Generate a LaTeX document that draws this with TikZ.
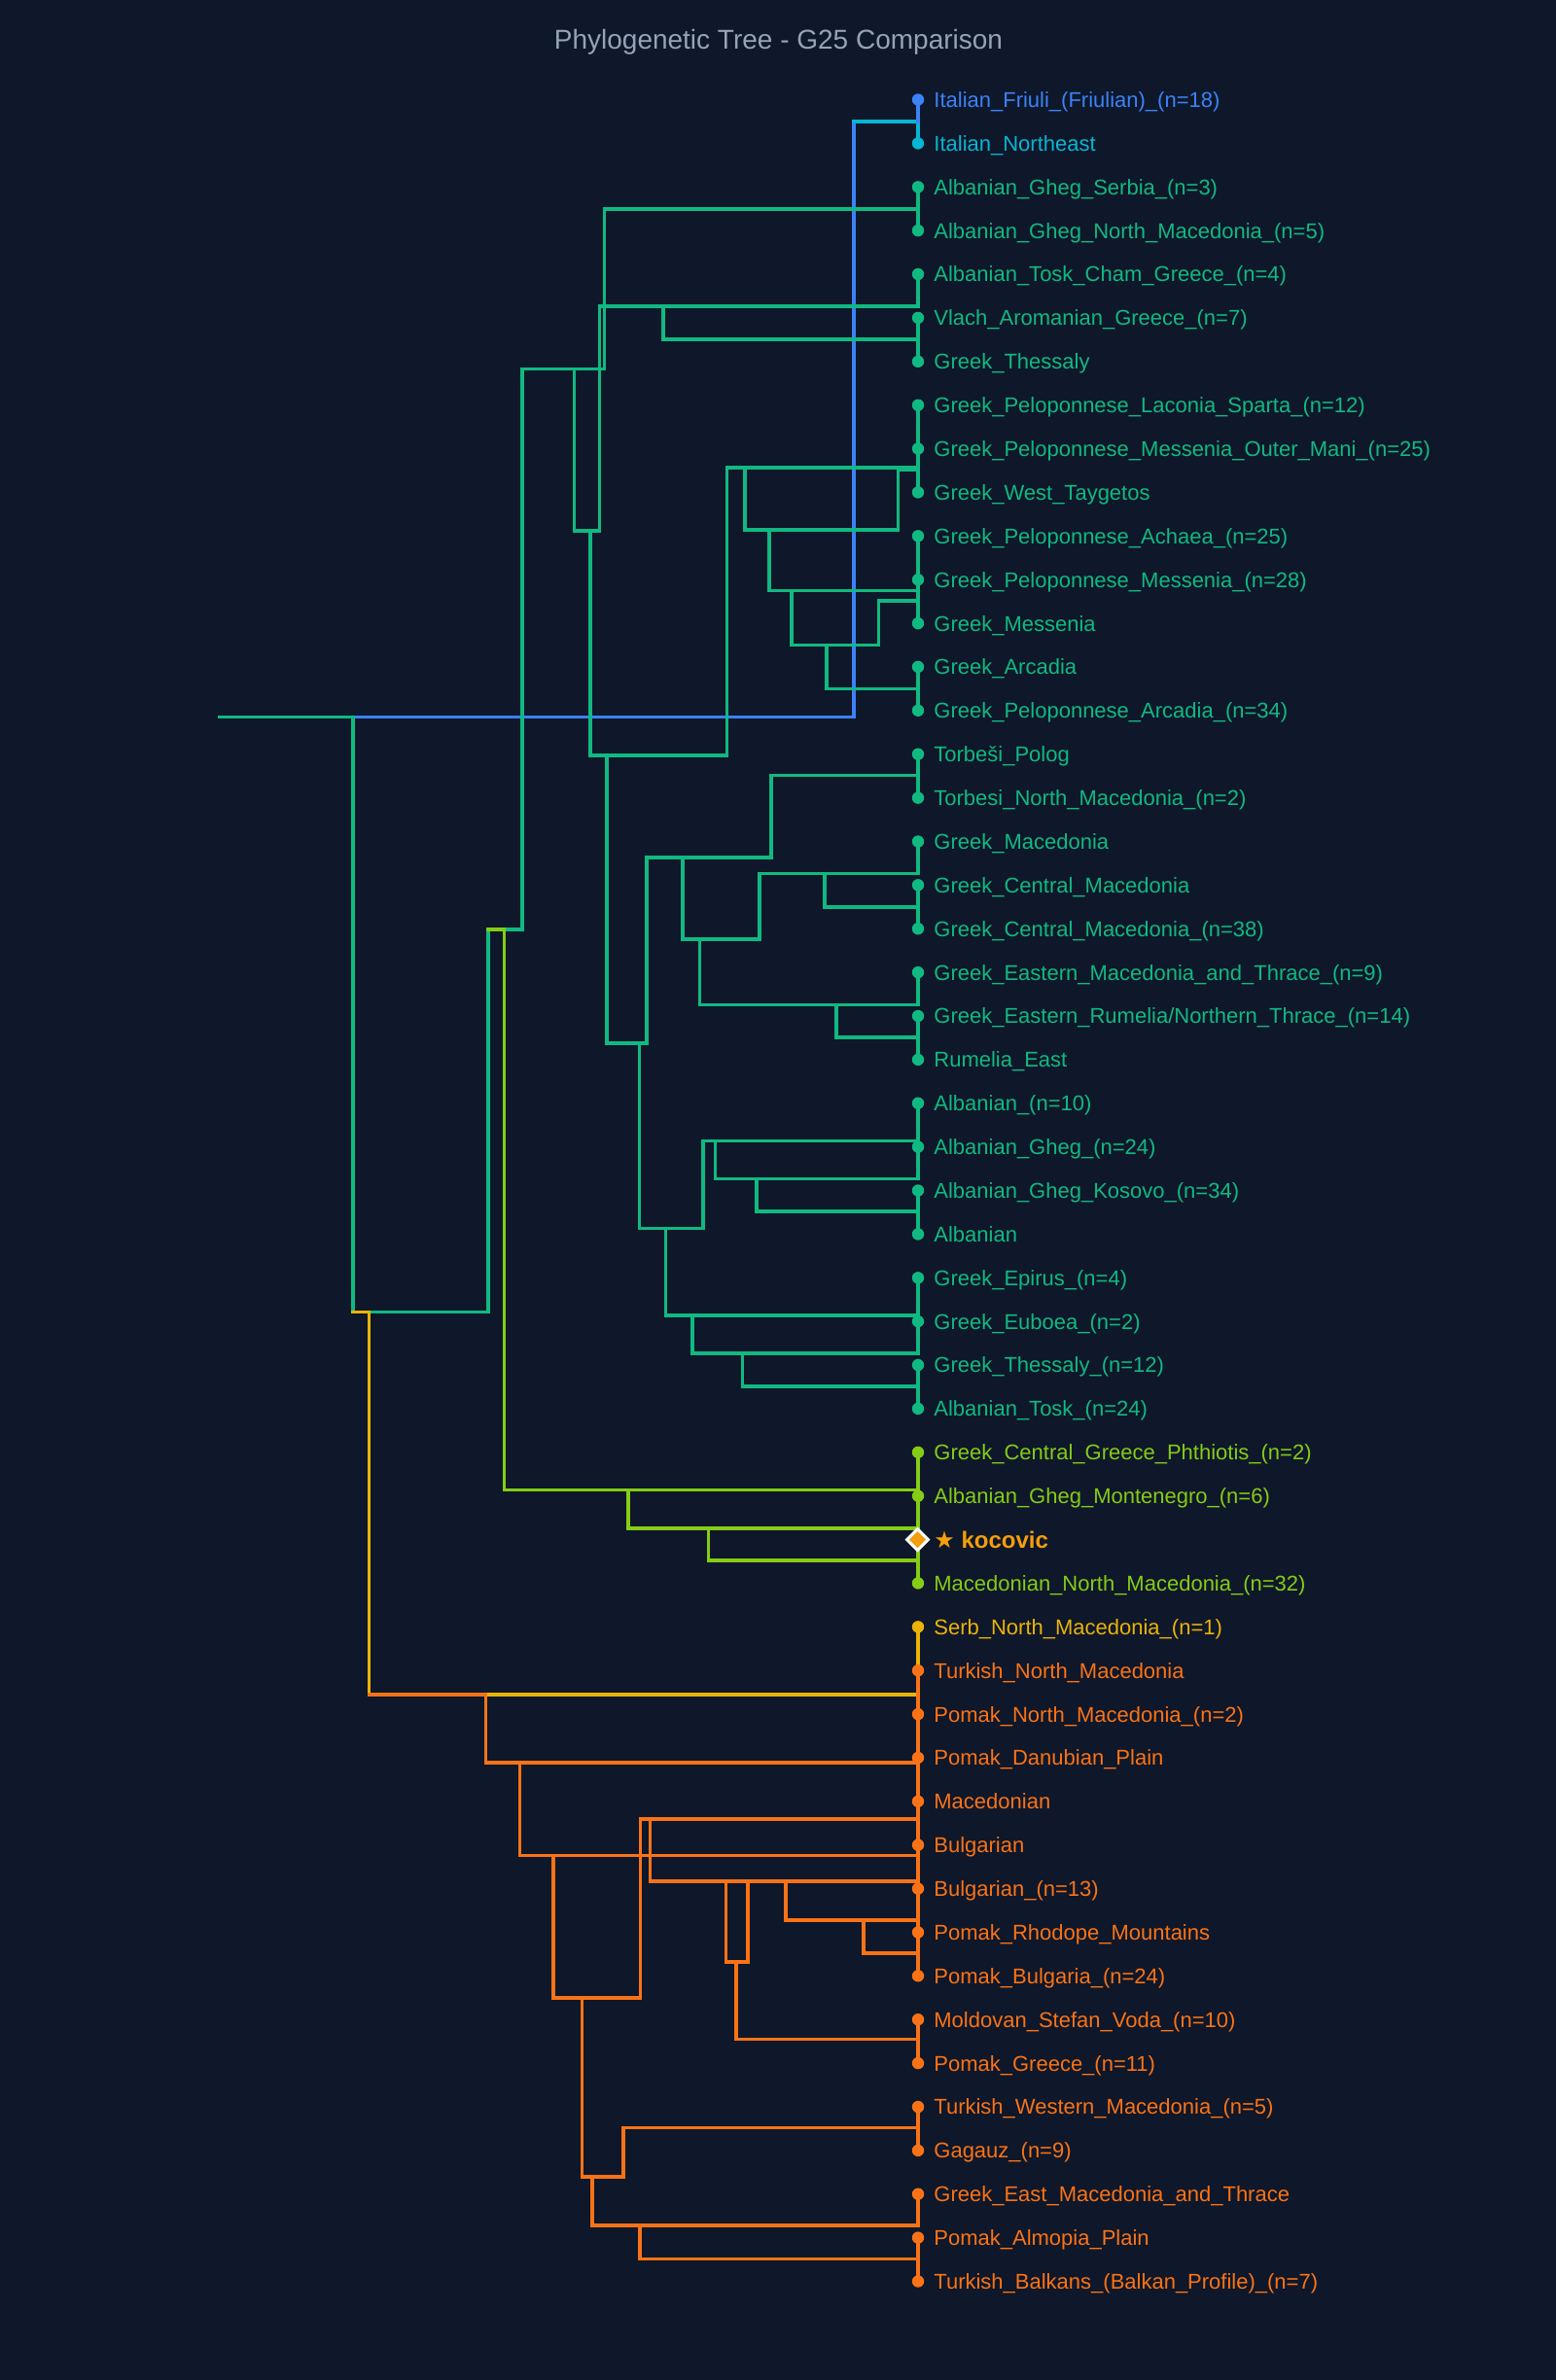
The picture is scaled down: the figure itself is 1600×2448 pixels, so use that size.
\documentclass[tikz,border=0pt]{standalone}
\usepackage{fontspec}
\setmainfont{Liberation Sans}
\newfontfamily\starfont{DejaVu Sans}
\usetikzlibrary{shapes.geometric}
\definecolor{bg}{HTML}{0F172A}
\definecolor{cblue}{HTML}{3B82F6}
\definecolor{ccyan}{HTML}{06B6D4}
\definecolor{cgreen}{HTML}{10B981}
\definecolor{clime}{HTML}{84CC16}
\definecolor{cyell}{HTML}{EAB308}
\definecolor{corange}{HTML}{F97316}
\definecolor{camber}{HTML}{F59E0B}
\definecolor{ctitle}{HTML}{94A3B8}
\tikzset{
  br/.style={line width=1.8pt, line cap=rect, line join=miter},
  leafdot/.style={circle, inner sep=0pt, minimum size=6.2pt},
  lbl/.style={anchor=base west, inner sep=0pt, font=\fontsize{11pt}{13pt}\selectfont},
}
\newcommand\leaf[4]{%
  \node[leafdot,fill=#3] (d#1) at (944,#2) {};
  \node[lbl,text=#3] (t#1) at (960,#2+7.9) {#4};}
\begin{document}
\begin{tikzpicture}[x=0.5pt,y=-0.5pt]
\path[fill=bg] (0,0) rectangle (1600,2448);
\node[anchor=base,inner sep=0pt,text=ctitle,font=\fontsize{14pt}{16pt}\selectfont] (title) at (800.5,50) {Phylogenetic Tree - G25 Comparison};

% ---------- blue / cyan ----------
\draw[br,cblue] (362.7,737.3) -- (878,737.3) -- (878,124.7);
\draw[br,ccyan] (878,124.7) -- (944,124.7) -- (944,147.4);
\draw[br,cblue] (944,102.5) -- (944,124.7);

% ---------- green ----------
\draw[br,cgreen] (225.7,737.3) -- (362.7,737.3);
\draw[br,cgreen] (362.7,737.3) -- (362.7,1349.3) -- (502,1349.3) -- (502,956) -- (536.7,956) -- (536.7,379.3) -- (621.4,379.3) -- (621.4,215) -- (944,215);
\draw[br,cgreen] (944,315) -- (616.3,315) -- (616.3,545.7) -- (590.3,545.7) -- (590.3,379.3);
\draw[br,cgreen] (682,315) -- (682,349) -- (944,349);
\draw[br,cgreen] (606.7,545.7) -- (606.7,776.7) -- (747.3,776.7) -- (747.3,480.7) -- (944,480.7);
\draw[br,cgreen] (765.7,480.7) -- (765.7,545) -- (923.3,545) -- (923.3,483.3) -- (944,483.3);
\draw[br,cgreen] (791,545) -- (791,607.3) -- (944,607.3);
\draw[br,cgreen] (944,618) -- (903.3,618) -- (903.3,663.3) -- (814,663.3) -- (814,607.3);
\draw[br,cgreen] (850,663.3) -- (850,708.3) -- (944,708.3);
\draw[br,cgreen] (624,776.7) -- (624,1072.7) -- (665,1072.7) -- (665,881.7) -- (792.7,881.7) -- (792.7,797.3) -- (944,797.3);
\draw[br,cgreen] (701.7,881.7) -- (701.7,965.7) -- (781,965.7) -- (781,898.3) -- (944,898.3);
\draw[br,cgreen] (847.7,898.3) -- (847.7,932.7) -- (944,932.7);
\draw[br,cgreen] (719.3,965.7) -- (719.3,1033.3) -- (944,1033.3);
\draw[br,cgreen] (860,1033.3) -- (860,1066.7) -- (944,1066.7);
\draw[br,cgreen] (657.4,1072.7) -- (657.4,1263.3) -- (723.2,1263.3) -- (723.2,1173.3) -- (944,1173.3);
\draw[br,cgreen] (735.3,1173.3) -- (735.3,1212.5) -- (944,1212.5);
\draw[br,cgreen] (777.7,1212.5) -- (777.7,1246) -- (944,1246);
\draw[br,cgreen] (684.4,1263.3) -- (684.4,1352.7) -- (944,1352.7);
\draw[br,cgreen] (712,1352.7) -- (712,1392) -- (944,1392);
\draw[br,cgreen] (763.4,1392) -- (763.4,1425.7) -- (944,1425.7);
% leaf column (green)
\foreach \a/\b in {192.3/237.1, 282/315, 326.9/371.8, 416.7/506.4, 551.3/641.1, 685.9/730.8, 775.7/820.6, 865.5/897, 910.3/955.2, 1000.1/1033.3, 1045/1089.9, 1134.7/1212.5, 1224.5/1269.4, 1314.3/1392, 1404/1448.9}
  \draw[br,cgreen] (944,\a) -- (944,\b);

% ---------- lime ----------
\draw[br,clime] (502,956) -- (518.3,956) -- (518.3,1532.3) -- (944,1532.3);
\draw[br,clime] (646,1532.3) -- (646,1571.7) -- (944,1571.7);
\draw[br,clime] (728.6,1571.7) -- (728.6,1605) -- (944,1605);
\draw[br,clime] (944,1493.8) -- (944,1628.4);

% ---------- yellow ----------
\draw[br,cyell] (362.7,1349.3) -- (379.5,1349.3) -- (379.5,1742.7);
\draw[br,cyell] (499.6,1742.7) -- (944,1742.7);
\draw[br,cyell] (944,1673.3) -- (944,1718.2);

% ---------- orange ----------
\draw[br,corange] (379.5,1742.7) -- (499.6,1742.7) -- (499.6,1813) -- (944,1813);
\draw[br,corange] (534.4,1813) -- (534.4,1908.3) -- (944,1908.3);
\draw[br,corange] (569.2,1908.3) -- (569.2,2055) -- (658.5,2055) -- (658.5,1870.7) -- (944,1870.7);
\draw[br,corange] (668.3,1870.7) -- (668.3,1935) -- (944,1935);
\draw[br,corange] (746.4,1935) -- (746.4,2017.7) -- (768.75,2017.7) -- (768.75,1935);
\draw[br,corange] (808,1935) -- (808,1975) -- (944,1975);
\draw[br,corange] (888,1975) -- (888,2009) -- (944,2009);
\draw[br,corange] (756.7,2017.7) -- (756.7,2097.5) -- (944,2097.5);
\draw[br,corange] (598.3,2055) -- (598.3,2239) -- (641,2239) -- (641,2188.3) -- (944,2188.3);
\draw[br,corange] (609,2239) -- (609,2289) -- (944,2289);
\draw[br,corange] (657.7,2289) -- (657.7,2323.3) -- (944,2323.3);
\foreach \a/\b in {1718.2/2032.3, 2077.2/2122.1, 2167/2211.9, 2256.7/2289, 2301.6/2346.5}
  \draw[br,corange] (944,\a) -- (944,\b);

% ---------- leaves ----------
\leaf{1}{102.5}{cblue}{Italian\_Friuli\_(Friulian)\_(n=18)}
\leaf{2}{147.4}{ccyan}{Italian\_Northeast}
\leaf{3}{192.3}{cgreen}{Albanian\_Gheg\_Serbia\_(n=3)}
\leaf{4}{237.1}{cgreen}{Albanian\_Gheg\_North\_Macedonia\_(n=5)}
\leaf{5}{282.0}{cgreen}{Albanian\_Tosk\_Cham\_Greece\_(n=4)}
\leaf{6}{326.9}{cgreen}{Vlach\_Aromanian\_Greece\_(n=7)}
\leaf{7}{371.8}{cgreen}{Greek\_Thessaly}
\leaf{8}{416.7}{cgreen}{Greek\_Peloponnese\_Laconia\_Sparta\_(n=12)}
\leaf{9}{461.5}{cgreen}{Greek\_Peloponnese\_Messenia\_Outer\_Mani\_(n=25)}
\leaf{10}{506.4}{cgreen}{Greek\_West\_Taygetos}
\leaf{11}{551.3}{cgreen}{Greek\_Peloponnese\_Achaea\_(n=25)}
\leaf{12}{596.2}{cgreen}{Greek\_Peloponnese\_Messenia\_(n=28)}
\leaf{13}{641.1}{cgreen}{Greek\_Messenia}
\leaf{14}{685.9}{cgreen}{Greek\_Arcadia}
\leaf{15}{730.8}{cgreen}{Greek\_Peloponnese\_Arcadia\_(n=34)}
\leaf{16}{775.7}{cgreen}{Torbeši\_Polog}
\leaf{17}{820.6}{cgreen}{Torbesi\_North\_Macedonia\_(n=2)}
\leaf{18}{865.5}{cgreen}{Greek\_Macedonia}
\leaf{19}{910.3}{cgreen}{Greek\_Central\_Macedonia}
\leaf{20}{955.2}{cgreen}{Greek\_Central\_Macedonia\_(n=38)}
\leaf{21}{1000.1}{cgreen}{Greek\_Eastern\_Macedonia\_and\_Thrace\_(n=9)}
\leaf{22}{1045.0}{cgreen}{Greek\_Eastern\_Rumelia/Northern\_Thrace\_(n=14)}
\leaf{23}{1089.9}{cgreen}{Rumelia\_East}
\leaf{24}{1134.7}{cgreen}{Albanian\_(n=10)}
\leaf{25}{1179.6}{cgreen}{Albanian\_Gheg\_(n=24)}
\leaf{26}{1224.5}{cgreen}{Albanian\_Gheg\_Kosovo\_(n=34)}
\leaf{27}{1269.4}{cgreen}{Albanian}
\leaf{28}{1314.3}{cgreen}{Greek\_Epirus\_(n=4)}
\leaf{29}{1359.1}{cgreen}{Greek\_Euboea\_(n=2)}
\leaf{30}{1404.0}{cgreen}{Greek\_Thessaly\_(n=12)}
\leaf{31}{1448.9}{cgreen}{Albanian\_Tosk\_(n=24)}
\leaf{32}{1493.8}{clime}{Greek\_Central\_Greece\_Phthiotis\_(n=2)}
\leaf{33}{1538.7}{clime}{Albanian\_Gheg\_Montenegro\_(n=6)}
\node[diamond, fill=camber, draw=white, line width=1.5pt, inner sep=0pt, minimum width=11.5pt, minimum height=11.5pt] (d34) at (943.5,1583.5) {};
\node[lbl,text=camber,font=\fontsize{12pt}{14pt}\selectfont\bfseries] (t34) at (960,1583.5+8.6) {{\starfont ★}~kocovic};
\leaf{35}{1628.4}{clime}{Macedonian\_North\_Macedonia\_(n=32)}
\leaf{36}{1673.3}{cyell}{Serb\_North\_Macedonia\_(n=1)}
\leaf{37}{1718.2}{corange}{Turkish\_North\_Macedonia}
\leaf{38}{1763.1}{corange}{Pomak\_North\_Macedonia\_(n=2)}
\leaf{39}{1807.9}{corange}{Pomak\_Danubian\_Plain}
\leaf{40}{1852.8}{corange}{Macedonian}
\leaf{41}{1897.7}{corange}{Bulgarian}
\leaf{42}{1942.6}{corange}{Bulgarian\_(n=13)}
\leaf{43}{1987.5}{corange}{Pomak\_Rhodope\_Mountains}
\leaf{44}{2032.3}{corange}{Pomak\_Bulgaria\_(n=24)}
\leaf{45}{2077.2}{corange}{Moldovan\_Stefan\_Voda\_(n=10)}
\leaf{46}{2122.1}{corange}{Pomak\_Greece\_(n=11)}
\leaf{47}{2167.0}{corange}{Turkish\_Western\_Macedonia\_(n=5)}
\leaf{48}{2211.9}{corange}{Gagauz\_(n=9)}
\leaf{49}{2256.7}{corange}{Greek\_East\_Macedonia\_and\_Thrace}
\leaf{50}{2301.6}{corange}{Pomak\_Almopia\_Plain}
\leaf{51}{2346.5}{corange}{Turkish\_Balkans\_(Balkan\_Profile)\_(n=7)}
\end{tikzpicture}
\end{document}
